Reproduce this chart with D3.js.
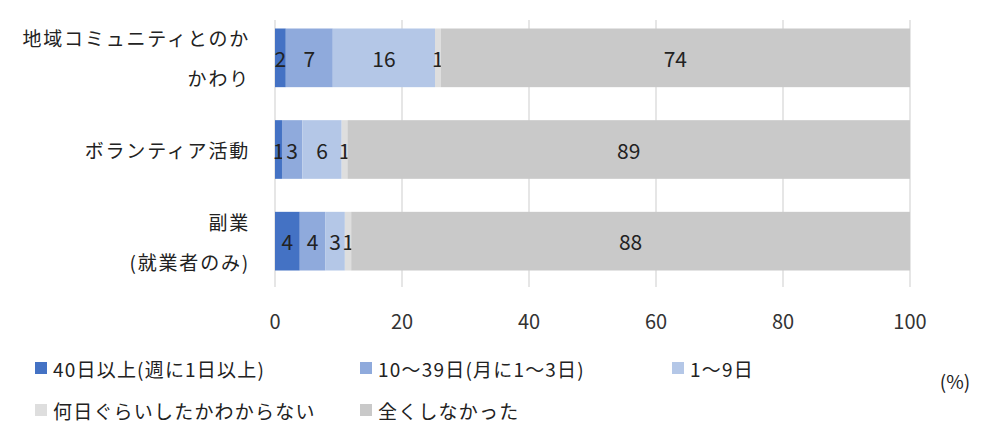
<!DOCTYPE html>
<html><head><meta charset="utf-8">
<script src="https://cdn.jsdelivr.net/npm/d3@7"></script>
<style>body{margin:0;background:#fff;font-family:"Noto Sans CJK JP","Noto Sans",sans-serif;}</style>
</head><body>
<svg id="c" width="1000" height="447"></svg>
<script>
// data
const categories = [["地域コミュニティとのか", "かわり"], ["ボランティア活動"], ["副業", "(就業者のみ)"]];
const seriesNames = ["40日以上(週に1日以上)", "10～39日(月に1～3日)", "1～9日", "何日ぐらいしたかわからない", "全くしなかった"];
const colors = ["#4472C4", "#8FAADC", "#B4C7E7", "#DEDEDE", "#C9C9C9"];
const values = [
  [1.7, 7.4, 16.1, 0.9, 73.9],
  [1.1, 3.2, 6.2, 0.9, 88.6],
  [3.9, 4.0, 3.1, 1.0, 88.0]
];
const labels = [
  ["2", "7", "16", "1", "74"],
  ["1", "3", "6", "1", "89"],
  ["4", "4", "3", "1", "88"]
];
const ticks = [0, 20, 40, 60, 80, 100];

const svg = d3.select("#c");
const x = d3.scaleLinear().domain([0, 100]).range([275, 910]);
const y = d3.scaleBand().domain(d3.range(categories.length)).range([12, 287]).paddingInner(0.36).paddingOuter(0.18);

svg.append("g").selectAll("line").data(ticks).join("line")
  .attr("x1", d => x(d)).attr("x2", d => x(d)).attr("y1", 20).attr("y2", 287)
  .attr("stroke", "#d9d9d9").attr("stroke-width", 1.3);

values.forEach((row, i) => {
  let acc = 0;
  const g = svg.append("g");
  row.forEach((v, j) => {
    const x0 = acc; acc += v;
    g.append("rect").attr("x", x(x0)).attr("width", x(acc) - x(x0))
      .attr("y", y(i)).attr("height", y.bandwidth()).attr("fill", colors[j]);
    g.append("text").attr("x", (x(x0) + x(acc)) / 2).attr("y", y(i) + y.bandwidth() / 2)
      .attr("text-anchor", "middle").attr("dominant-baseline", "central")
      .attr("font-size", 21).attr("fill", "#222").text(labels[i][j]);
  });
  const lines = categories[i];
  const t = svg.append("text").attr("text-anchor", "end").attr("font-size", 19)
    .attr("letter-spacing", 1.8).attr("fill", "#222");
  lines.forEach((l, k) => {
    t.append("tspan").attr("x", 250)
      .attr("y", y(i) + y.bandwidth() / 2 + (k - (lines.length - 1) / 2) * 40)
      .attr("dominant-baseline", "central").text(l);
  });
});

svg.append("g").selectAll("text").data(ticks).join("text")
  .attr("x", d => x(d)).attr("y", 320).attr("text-anchor", "middle").attr("dominant-baseline", "central")
  .attr("font-size", 20).attr("fill", "#333").text(d => d);

const legendPos = [[35, 368], [360, 368], [672, 368], [35, 410], [360, 410]];
const lg = svg.append("g");
seriesNames.forEach((n, j) => {
  const [lx, ly] = legendPos[j];
  lg.append("rect").attr("x", lx).attr("y", ly - 6).attr("width", 12).attr("height", 12).attr("fill", colors[j]);
  lg.append("text").attr("x", lx + 18).attr("y", ly).attr("dominant-baseline", "central")
    .attr("font-size", 19).attr("letter-spacing", 1.2).attr("fill", "#222").text(n);
});
svg.append("text").attr("x", 955).attr("y", 380).attr("text-anchor", "middle").attr("dominant-baseline", "central")
  .attr("font-size", 19).attr("fill", "#222").text("(%)");
</script>
</body></html>
